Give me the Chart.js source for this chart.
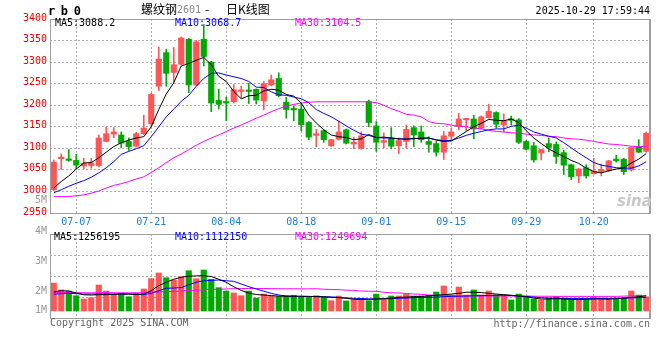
<!DOCTYPE html>
<html><head><meta charset="utf-8">
<script src="https://cdn.jsdelivr.net/npm/chart.js@4.4.1/dist/chart.umd.min.js"></script>
<style>
html,body{margin:0;padding:0;background:#fff;}
#wrap{position:relative;width:660px;height:360px;overflow:hidden;background:#fff;}
canvas{position:absolute;left:0;}
#c1{top:0;}
#c2{top:220px;}
.t{position:absolute;font-family:"DejaVu Sans Mono",monospace;font-size:10px;line-height:12px;white-space:pre;}
.cjk{font-family:"Noto Sans CJK SC",sans-serif;font-size:12px;}
</style></head><body>
<div id="wrap">
<canvas id="c1" width="660" height="232"></canvas>
<canvas id="c2" width="660" height="140"></canvas>
<div class="t" style="left:48px;top:5px;font-family:'DejaVu Sans Mono',monospace;font-weight:bold;font-size:12px;letter-spacing:-0.8px;color:#000;">r b 0</div>
<div class="t cjk" style="left:141px;top:3px;color:#000;">螺纹钢</div>
<div class="t" style="left:177px;top:4px;color:#888;">2601</div>
<div class="t cjk" style="left:205px;top:3px;color:#000;">-</div>
<div class="t cjk" style="left:226px;top:3px;color:#000;">日K线图</div>
<div class="t" style="right:10px;top:5px;color:#000;">2025-10-29 17:59:44</div>
<div class="t" style="left:55px;top:17px;color:#000;">MA5:3088.2</div>
<div class="t" style="left:175px;top:17px;color:#0000ff;">MA10:3068.7</div>
<div class="t" style="left:295px;top:17px;color:#ff00ff;">MA30:3104.5</div>
<div class="t" style="left:54px;top:231px;color:#000;">MA5:1256195</div>
<div class="t" style="left:175px;top:231px;color:#0000ff;">MA10:1112150</div>
<div class="t" style="left:295px;top:231px;color:#ff00ff;">MA30:1249694</div>
<div class="t" style="left:50px;top:317px;color:#666;">Copyright 2025 SINA.COM</div>
<div class="t" style="right:10px;top:318px;color:#666;">http://finance.sina.com.cn</div>
<div class="t" style="left:617px;top:193px;font-family:'DejaVu Sans',sans-serif;font-weight:bold;font-style:italic;font-size:15px;line-height:16px;color:#c8c8c8;">sina</div>
</div>
<script>
const dates = [
'07-02','07-03','07-04','07-07','07-08','07-09','07-10','07-11','07-14','07-15',
'07-16','07-17','07-18','07-21','07-22','07-23','07-24','07-25','07-28','07-29',
'07-30','07-31','08-01','08-04','08-05','08-06','08-07','08-08','08-11','08-12',
'08-13','08-14','08-15','08-18','08-19','08-20','08-21','08-22','08-25','08-26',
'08-27','08-28','08-29','09-01','09-02','09-03','09-04','09-05','09-08','09-09',
'09-10','09-11','09-12','09-15','09-16','09-17','09-18','09-19','09-22','09-23',
'09-24','09-25','09-26','09-29','09-30','10-09','10-10','10-13','10-14','10-15',
'10-16','10-17','10-20','10-21','10-22','10-23','10-24','10-27','10-28','10-29'];
const xTickLabels = ['07-07','07-21','08-04','08-18','09-01','09-15','09-29','10-20'];
const opens = [
3004,3076,3074,3072,3059,3060,3060,3116,3133,3131,
3116,3105,3134,3157,3244,3322,3276,3295,3353,3247,
3353,3300,3211,3206,3208,3232,3234,3237,3210,3247,
3262,3207,3190,3191,3160,3130,3141,3106,3121,3143,
3110,3100,3208,3152,3114,3123,3106,3116,3148,3138,
3116,3111,3091,3128,3151,3166,3168,3147,3171,3183,
3154,3167,3166,3116,3106,3089,3111,3109,3090,3062,
3036,3055,3041,3046,3048,3075,3075,3050,3103,3093];
const highs = [
3073,3087,3097,3086,3077,3077,3131,3149,3148,3138,
3124,3137,3177,3228,3335,3330,3334,3358,3355,3350,
3387,3302,3237,3219,3248,3244,3251,3238,3255,3270,
3275,3218,3199,3206,3162,3144,3143,3121,3163,3145,
3126,3138,3212,3162,3136,3148,3124,3154,3152,3152,
3127,3116,3139,3146,3181,3170,3177,3175,3202,3185,
3180,3175,3169,3118,3114,3098,3124,3115,3096,3063,
3053,3062,3077,3064,3072,3084,3077,3103,3120,3138];
const lows = [
3002,3051,3070,3052,3052,3054,3057,3115,3125,3101,
3095,3103,3132,3153,3234,3244,3253,3293,3229,3245,
3291,3185,3191,3164,3205,3217,3204,3203,3189,3245,
3220,3170,3164,3141,3120,3104,3114,3104,3119,3110,
3099,3098,3150,3093,3101,3099,3088,3101,3104,3114,
3091,3082,3074,3120,3143,3141,3122,3145,3170,3147,
3138,3154,3111,3096,3068,3073,3092,3065,3039,3027,
3020,3031,3040,3036,3046,3068,3039,3047,3090,3091];
const closes = [
3068,3077,3072,3061,3065,3066,3124,3134,3138,3112,
3104,3134,3147,3225,3307,3274,3294,3356,3247,3347,
3313,3205,3202,3205,3236,3234,3232,3212,3250,3259,
3222,3190,3189,3155,3126,3134,3120,3120,3138,3112,
3114,3129,3160,3114,3118,3105,3118,3144,3131,3120,
3109,3091,3129,3138,3168,3168,3145,3173,3186,3156,
3165,3165,3114,3098,3073,3097,3102,3081,3061,3034,
3052,3036,3047,3051,3071,3071,3046,3102,3091,3135];
const ma5 = [
3008,3023,3036,3052,3066,3067,3078,3091,3104,3113,
3119,3124,3127,3150,3190,3226,3252,3291,3297,3304,
3311,3294,3267,3255,3232,3215,3222,3223,3233,3237,
3235,3225,3221,3205,3177,3159,3143,3131,3127,3125,
3120,3122,3132,3125,3126,3124,3122,3121,3123,3123,
3124,3119,3116,3117,3128,3139,3150,3158,3167,3165,
3164,3168,3160,3141,3124,3111,3099,3089,3081,3072,
3065,3054,3046,3043,3048,3052,3055,3066,3075,3088];
const ma10 = [
2997,3004,3012,3019,3025,3033,3043,3055,3069,3086,
3093,3099,3106,3127,3150,3173,3191,3209,3223,3244,
3262,3274,3275,3270,3266,3262,3255,3242,3241,3231,
3224,3223,3219,3215,3206,3190,3181,3173,3163,3152,
3142,3133,3130,3125,3124,3124,3122,3122,3122,3124,
3124,3120,3118,3118,3124,3130,3135,3139,3143,3145,
3145,3151,3154,3147,3138,3133,3128,3124,3113,3101,
3089,3078,3067,3061,3058,3055,3054,3054,3059,3069];
const ma30 = [
2988,2988,2988,2990,2992,2996,3001,3008,3014,3018,
3023,3029,3034,3044,3055,3067,3078,3087,3097,3107,
3116,3124,3131,3139,3147,3154,3162,3170,3177,3185,
3192,3198,3202,3205,3207,3208,3208,3208,3208,3208,
3208,3208,3208,3206,3200,3192,3186,3179,3177,3173,
3162,3158,3157,3154,3151,3150,3147,3145,3142,3139,
3138,3136,3135,3133,3131,3130,3128,3127,3124,3122,
3121,3119,3116,3113,3110,3109,3107,3105,3104,3104.5];
const volumes = [
2310000,1740000,1650000,1260000,990000,1100000,2150000,1650000,1400000,1460000,
1180000,1490000,1820000,2670000,3140000,2750000,2560000,2830000,3330000,2670000,
3390000,2620000,1930000,1650000,1490000,1260000,1650000,1070000,1400000,1260000,
1200000,1240000,1300000,1180000,1180000,1260000,1130000,850000,1240000,830000,
930000,1020000,850000,1400000,930000,1240000,1240000,1380000,1240000,1240000,
1300000,1570000,2070000,1320000,1980000,1320000,1740000,1320000,1650000,1320000,
1260000,910000,1400000,1210000,990000,910000,1070000,1180000,1070000,990000,
990000,990000,1180000,990000,990000,1070000,1100000,1650000,1320000,1180000];
const volMa5 = [
1570000,1680000,1650000,1490000,1340000,1320000,1350000,1350000,1370000,1400000,
1400000,1360000,1400000,1680000,2090000,2370000,2620000,2790000,2880000,2900000,
2920000,2850000,2620000,2370000,2000000,1700000,1480000,1360000,1320000,1270000,
1230000,1220000,1220000,1220000,1200000,1200000,1170000,1130000,1100000,1050000,
970000,950000,960000,990000,1020000,1050000,1130000,1150000,1180000,1210000,
1240000,1300000,1350000,1400000,1460000,1550000,1550000,1520000,1460000,1400000,
1350000,1300000,1240000,1180000,1070000,990000,990000,1020000,990000,960000,
960000,960000,990000,990000,980000,1020000,1050000,1120000,1180000,1256195];
const volMa10 = [
1380000,1430000,1460000,1430000,1400000,1400000,1400000,1400000,1400000,1400000,
1400000,1380000,1350000,1460000,1680000,1880000,1900000,1930000,2170000,2370000,
2500000,2530000,2560000,2500000,2450000,2230000,2010000,1820000,1630000,1460000,
1320000,1240000,1210000,1210000,1210000,1180000,1180000,1160000,1130000,1080000,
1050000,1030000,1000000,990000,990000,1020000,1050000,1070000,1100000,1130000,
1130000,1150000,1190000,1210000,1220000,1240000,1260000,1270000,1290000,1300000,
1300000,1280000,1240000,1200000,1150000,1100000,1070000,1050000,1040000,1030000,
1030000,1030000,1040000,1040000,1040000,1050000,1060000,1080000,1100000,1112150];
const volMa30 = [
1520000,1520000,1530000,1520000,1510000,1500000,1520000,1520000,1510000,1510000,
1500000,1500000,1520000,1550000,1580000,1600000,1620000,1650000,1700000,1720000,
1750000,1780000,1800000,1820000,1840000,1850000,1860000,1860000,1860000,1850000,
1840000,1840000,1840000,1830000,1830000,1840000,1800000,1780000,1760000,1720000,
1710000,1650000,1630000,1630000,1550000,1500000,1490000,1450000,1400000,1380000,
1320000,1300000,1290000,1270000,1250000,1240000,1240000,1240000,1240000,1240000,
1240000,1240000,1240000,1240000,1220000,1220000,1220000,1210000,1210000,1210000,
1210000,1210000,1210000,1210000,1210000,1210000,1230000,1240000,1250000,1249694];
const priceTicks = [3400,3350,3300,3250,3200,3150,3100,3050,3000,2950];
const priceExtraTick = {value: 2978, label: '5M'};
const volTickLabels = ['4M','3M','2M','1M'];
const volTickValues = [6364000,3884000,1405000,-223000];

const UP = '#ff5555', DOWN = '#00a800';
const GRID = '#b0b0b0', FRAME = '#a0a0a0';
const MONO = 'DejaVu Sans Mono';
const candleColors = closes.map((c, i) => c >= opens[i] ? UP : DOWN);

const frame = {
  id: 'frame',
  afterDraw(chart) {
    const {ctx, chartArea: a} = chart;
    ctx.save();
    ctx.fillStyle = FRAME;
    ctx.fillRect(a.left, a.top, a.right - a.left, 1);
    ctx.fillRect(a.left, a.bottom, a.right - a.left, 1);
    ctx.fillRect(a.left, a.top, 1, a.bottom - a.top);
    ctx.fillRect(a.right - 1, a.top, 2, a.bottom - a.top + 1);
    ctx.restore();
  }
};

const xFilter = s => { s.ticks = s.ticks.filter(t => xTickLabels.includes(dates[t.value])); };
const lineDs = (label, data, color, axis) => ({
  type: 'line', label, data, borderColor: color, borderWidth: 1, pointRadius: 0,
  tension: 0, fill: false, order: 0, yAxisID: axis
});

new Chart(document.getElementById('c1'), {
  type: 'bar',
  data: {
    labels: dates,
    datasets: [
      lineDs('MA5', ma5, '#000000', 'y'),
      lineDs('MA10', ma10, '#0000ff', 'y'),
      lineDs('MA30', ma30, '#ff00ff', 'y'),
      { label: 'body', data: opens.map((o, i) => [o, closes[i]]), backgroundColor: candleColors,
        barThickness: 5.5, minBarLength: 1.5, grouped: false, order: 1, borderWidth: 0 },
      { label: 'wick', data: lows.map((l, i) => [l, highs[i]]), backgroundColor: candleColors,
        barThickness: 1, grouped: false, order: 2, borderWidth: 0 }
    ]
  },
  options: {
    responsive: false, animation: false, events: [], devicePixelRatio: 1,
    layout: { padding: { top: 19, right: 10, left: 0, bottom: 0 } },
    plugins: { legend: { display: false }, tooltip: { enabled: false } },
    scales: {
      x: {
        type: 'category', offset: true,
        grid: { offset: false, color: GRID, drawTicks: false },
        border: { display: false, dash: [2, 2] },
        ticks: { autoSkip: false, maxRotation: 0, color: '#1c7fd6', font: { family: MONO, size: 10 }, padding: 3 },
        afterBuildTicks: xFilter,
        afterFit: s => { s.height = 19; }
      },
      y: {
        min: 2950, max: 3400,
        grid: { color: c => (c.tick && c.tick.value === priceExtraTick.value) ? 'rgba(0,0,0,0)' : GRID, drawTicks: false },
        border: { display: false, dash: [2, 2] },
        ticks: {
          padding: 3, labelOffset: -1, font: { family: MONO, size: 10 },
          color: c => (c.tick && c.tick.value === priceExtraTick.value) ? '#999999' : '#ee0000',
          callback: v => v === priceExtraTick.value ? priceExtraTick.label : String(v)
        },
        afterBuildTicks: s => { s.ticks = priceTicks.map(v => ({ value: v })).concat([{ value: priceExtraTick.value }]); },
        afterFit: s => { s.width = 50; }
      }
    }
  },
  plugins: [frame]
});

const VMIN = -578500, VMAX = 6364000;
new Chart(document.getElementById('c2'), {
  type: 'bar',
  data: {
    labels: dates,
    datasets: [
      lineDs('MA5', volMa5, '#000000', 'yv'),
      lineDs('MA10', volMa10, '#0000ff', 'yv'),
      lineDs('MA30', volMa30, '#ff00ff', 'yv'),
      { label: 'vol', data: volumes, backgroundColor: candleColors, barThickness: 5.5,
        grouped: false, order: 1, borderWidth: 0, yAxisID: 'yv' }
    ]
  },
  options: {
    responsive: false, animation: false, events: [], devicePixelRatio: 1,
    layout: { padding: { top: 14, right: 10, left: 0, bottom: 42 } },
    plugins: { legend: { display: false }, tooltip: { enabled: false } },
    scales: {
      x: {
        type: 'category', offset: true,
        grid: { offset: false, color: GRID, drawTicks: false },
        border: { display: false, dash: [2, 2] },
        ticks: { display: false, autoSkip: false },
        afterBuildTicks: xFilter,
        afterFit: s => { s.height = 0; }
      },
      yv: {
        position: 'right', min: VMIN, max: VMAX,
        grid: { color: GRID, drawTicks: false },
        border: { display: false, dash: [2, 2] },
        ticks: { display: false },
        afterBuildTicks: s => { s.ticks = [0, 1, 2, 3, 4].map(k => ({ value: VMIN + (VMAX - VMIN) * k / 4 })); },
        afterFit: s => { s.width = 0; }
      },
      yl: {
        position: 'left', min: VMIN, max: VMAX,
        grid: { display: false, drawTicks: false },
        border: { display: false },
        ticks: {
          padding: 3, labelOffset: -3, color: '#999999', font: { family: MONO, size: 10 },
          callback: (v, i) => volTickLabels[i]
        },
        afterBuildTicks: s => { s.ticks = volTickValues.map(v => ({ value: v })); },
        afterFit: s => { s.width = 50; }
      }
    }
  },
  plugins: [frame]
});
</script>
</body></html>
